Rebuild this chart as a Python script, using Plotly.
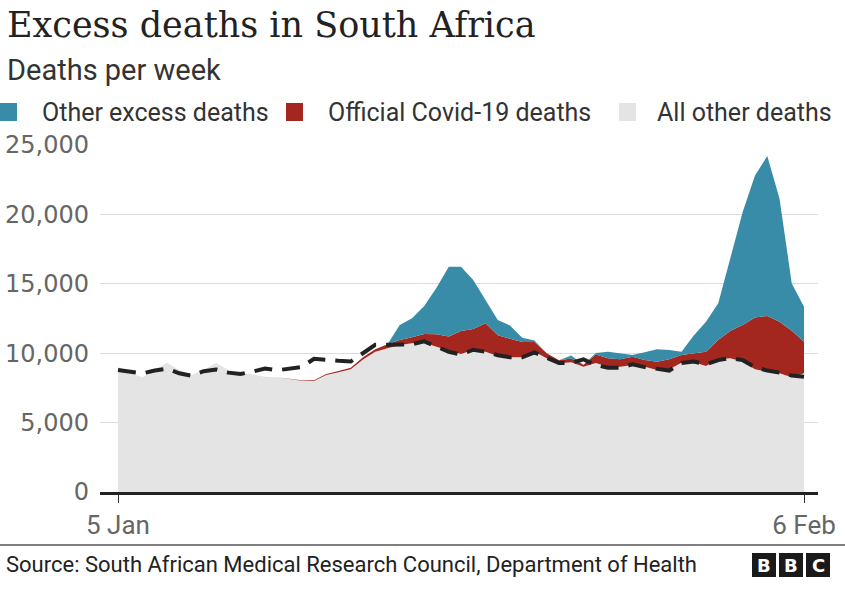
import plotly.graph_objects as go

# Week index 0 = 5 Jan 2020 ... 56 = 6 Feb 2021 (weekly)
weeks = list(range(57))
tick_vals = [0, 56]
tick_text = ["5 Jan", "6 Feb"]

# "All other deaths" (grey base), deaths per week
all_other = [9000, 8550, 8260, 8790, 9320, 8790, 8430, 8790, 9320, 8790,
             8550, 8480, 8310, 8260, 8140, 8020, 8000, 8430, 8620, 8840,
             9550, 10110, 10350, 10590, 10710, 10760, 10470, 10230, 9950, 10230,
             10110, 9800, 9700, 9700, 10110, 9630, 9270, 9350, 9030, 9300,
             9030, 9030, 9150, 9030, 8790, 8840, 9320, 9350, 9080, 9560,
             9630, 9390, 8840, 8670, 8550, 8260, 8550]

# "Official Covid-19 deaths" (red, stacked on grey)
covid = [0, 0, 0, 0, 0, 0, 0, 0, 0, 0,
         0, 0, 0, 10, 30, 40, 50, 70, 100, 120,
         150, 170, 300, 360, 440, 620, 900, 970, 1650, 1520,
         2040, 1500, 1350, 1100, 700, 370, 230, 260, 140, 600,
         600, 530, 600, 480, 600, 720, 550, 650, 1030, 1390,
         1990, 2640, 3740, 4010, 3720, 3360, 2280]

# "Other excess deaths" (blue, stacked on red)
other_excess = [0, 0, 0, 0, 0, 0, 0, 0, 0, 0,
                0, 0, 0, 0, 0, 0, 0, 0, 0, 0,
                0, 0, 0, 1080, 1360, 2020, 3350, 5030, 4630, 3520,
                1680, 1090, 950, 320, 100, 0, 0, 220, 0, 110,
                480, 430, 120, 550, 890, 670, 240, 1270, 2160, 2640,
                5330, 8160, 10220, 11520, 8880, 3410, 2520]

# Expected deaths (dashed line)
expected = [8790, 8650, 8550, 8750, 8880, 8550, 8380, 8700, 8830, 8600,
            8500, 8680, 8900, 8770, 8850, 9000, 9600, 9500, 9450, 9400,
            10000, 10600, 10600, 10600, 10650, 10850, 10450, 10100, 9900, 10250,
            10100, 9850, 9700, 9700, 10050, 9650, 9300, 9300, 9550, 9150,
            8950, 8950, 9200, 9000, 8850, 8750, 9300, 9400, 9200, 9500,
            9650, 9500, 9000, 8750, 8600, 8400, 8300]

y_ticks = [0, 5000, 10000, 15000, 20000, 25000]

series_names = ["All other deaths", "Official Covid-19 deaths", "Other excess deaths"]
colors = {"All other deaths": "#e4e4e4",
          "Official Covid-19 deaths": "#a3261f",
          "Other excess deaths": "#388ca8"}

fig = go.Figure()
for name, vals in zip(series_names, [all_other, covid, other_excess]):
    fig.add_trace(go.Scatter(
        x=weeks, y=vals, name=name, mode="lines",
        stackgroup="one", line=dict(width=0, color=colors[name]),
        fillcolor=colors[name], showlegend=False, hoverinfo="skip"))

fig.add_trace(go.Scatter(
    x=weeks, y=expected, mode="lines", name="Expected",
    line=dict(color="#222222", width=4, dash="18px,10px"),
    showlegend=False, hoverinfo="skip"))

# plot area in pixels: x 100..818, y 145..492
L, R, T, B = 100, 818, 145, 492
W, H = 845, 600


def px(x):
    return (x - L) / (R - L)


def py(y):
    return (B - y) / (B - T)


def note(text, x, y, size, family="Roboto", color="#222222", xanchor="left"):
    return dict(text=text, x=px(x), y=py(y), xref="paper", yref="paper",
                xanchor=xanchor, yanchor="middle", showarrow=False,
                font=dict(family=family, size=size, color=color))


annotations = [
    note("Excess deaths in South Africa", 5, 25, 35, family="DejaVu Serif"),
    note("Deaths per week", 5, 70, 29, color="#333333"),
    note("Source: South African Medical Research Council, Department of Health",
         4, 564, 22),
]

legend_items = [("Other excess deaths", 0, 40), ("Official Covid-19 deaths", 286, 326),
                ("All other deaths", 619, 655)]
shapes = []
for name, sx, tx in legend_items:
    shapes.append(dict(type="rect", xref="paper", yref="paper",
                       x0=px(sx), x1=px(sx + 17), y0=py(121), y1=py(103),
                       fillcolor=colors[name], line=dict(width=0)))
    annotations.append(note(name, tx, 112, 25, color="#333333"))

# separator line above source
shapes.append(dict(type="line", xref="paper", yref="paper", x0=px(0), x1=px(845),
                   y0=py(545), y1=py(545), line=dict(color="#555555", width=1.5)))

# BBC logo blocks
for i, letter in enumerate(["B", "B", "C"]):
    x0 = 752 + i * 27
    shapes.append(dict(type="rect", xref="paper", yref="paper",
                       x0=px(x0), x1=px(x0 + 24), y0=py(577), y1=py(553),
                       fillcolor="#1a1a1a", line=dict(width=0)))
    annotations.append(note("<b>%s</b>" % letter, x0 + 12, 565, 18,
                            family="DejaVu Sans", color="white", xanchor="center"))

fig.update_layout(
    width=W, height=H,
    margin=dict(l=L, r=W - R, t=T, b=H - B, pad=0, autoexpand=False),
    paper_bgcolor="white", plot_bgcolor="white",
    showlegend=False,
    annotations=annotations, shapes=shapes,
    xaxis=dict(range=[-18 / 12.25, 56 + 14 / 12.25], tickvals=tick_vals,
               ticktext=tick_text, showgrid=False, zeroline=False,
               showline=True, linecolor="#222222", linewidth=2.5,
               ticks="outside", ticklen=8, tickwidth=1, tickcolor="#333333",
               tickfont=dict(family="Roboto", size=26, color="#666666")),
    yaxis=dict(range=[0, 25000], tickvals=y_ticks, tickformat=",",
               showgrid=True, gridcolor="#dcdcdc", gridwidth=1,
               zeroline=False, showline=False, ticks="", ticklabelstandoff=10,
               tickfont=dict(family="DejaVu Sans", size=24, color="#666666")),
)

fig.write_html("out.html", config={"displayModeBar": False},
               post_script="document.body.style.margin='0px';document.body.style.overflow='hidden';")
